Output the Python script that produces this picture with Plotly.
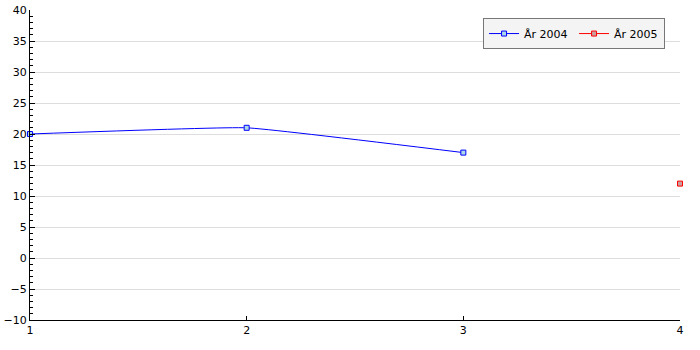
import plotly.graph_objects as go

x_2004 = [1, 2, 3]
y_2004 = [20, 21, 17]
x_2005 = [4]
y_2005 = [12]
series_names = ["År 2004", "År 2005"]

fig = go.Figure()
fig.add_trace(go.Scatter(
    x=x_2004, y=y_2004, name=series_names[0], mode="lines+markers",
    line=dict(color="blue", width=1, shape="spline", smoothing=0.3),
    marker=dict(symbol="square", size=5, color="lightblue", line=dict(color="blue", width=1)),
    cliponaxis=False,
))
fig.add_trace(go.Scatter(
    x=x_2005, y=y_2005, name=series_names[1], mode="lines+markers",
    line=dict(color="red", width=1),
    marker=dict(symbol="square", size=5, color="#c8a0a0", line=dict(color="red", width=1)),
    cliponaxis=False,
))

fig.update_layout(
    width=700, height=350,
    margin=dict(l=30, r=20, t=10, b=30, autoexpand=False),
    plot_bgcolor="white", paper_bgcolor="white",
    font=dict(family="DejaVu Sans", size=11, color="black"),
    legend=dict(
        x=0.977, y=0.974, xanchor="right", yanchor="top",
        orientation="h", bgcolor="#f4f4f4", bordercolor="#777", borderwidth=1,
        font=dict(size=11), itemwidth=30, entrywidth=45, entrywidthmode="pixels",
    ),
    xaxis=dict(
        range=[1, 4], tickvals=[1, 2, 3, 4], showgrid=False, zeroline=False,
        showline=True, linecolor="black", linewidth=1, automargin=False,
        ticks="inside", ticklen=4, tickcolor="black",
    ),
    yaxis=dict(
        range=[-10, 40], dtick=5, showgrid=True, gridcolor="#dddddd", zeroline=False,
        showline=True, linecolor="black", linewidth=1, automargin=False,
        ticks="inside", ticklen=5, tickcolor="black",
        minor=dict(dtick=1, ticks="inside", ticklen=3, tickcolor="black", showgrid=False),
    ),
)

fig.write_html("out.html")
